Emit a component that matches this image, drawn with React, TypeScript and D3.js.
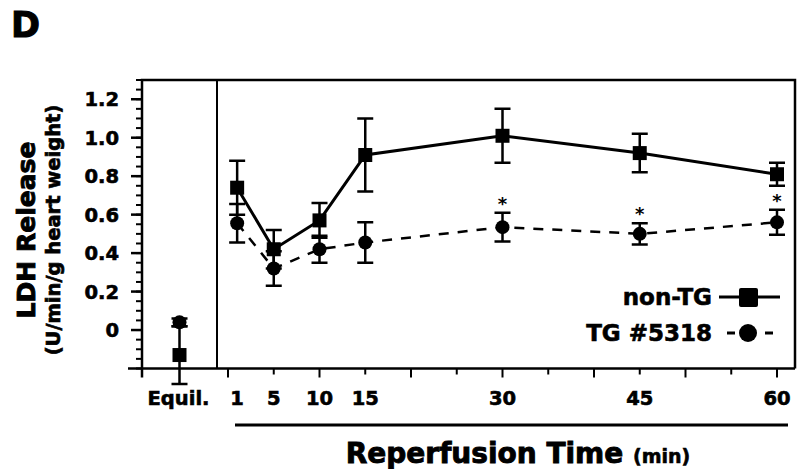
import React, { useEffect, useRef } from 'react';
import * as d3 from 'd3';

// reperfusion minutes
const times = [1, 5, 10, 15, 30, 45, 60];
const tickLabels = [1, 5, 10, 15, 30, 45, 60];

// LDH release, U/min/g heart weight
const nonTG = [0.74, 0.42, 0.57, 0.91, 1.01, 0.92, 0.81];
const nonTGErr = [0.14, 0.1, 0.09, 0.19, 0.14, 0.1, 0.06];
const tg = [0.555, 0.32, 0.42, 0.455, 0.535, 0.5, 0.56];
const tgErr = [0.1, 0.09, 0.07, 0.105, 0.075, 0.055, 0.065];

// equilibration values
const equilNonTG = [-0.13];
const equilNonTGErr = [0.15];
const equilTG = [0.04];
const equilTGErr = [0.02];

const significant = [30, 45, 60];
const yTicks = [0, 0.2, 0.4, 0.6, 0.8, 1.0, 1.2];

const W = 798;
const H = 469;
const FONT = '"DejaVu Sans", sans-serif';

const App: React.FC = () => {
    const svgRef = useRef<SVGSVGElement>(null);

    useEffect(() => {
        if (!svgRef.current) return;
        const svg = d3.select(svgRef.current);
        svg.selectAll('*').remove();

        const left = 142, right = 795, top = 80, bottom = 368.5;
        const x = d3.scaleLinear().domain([0, 60]).range([228, 777]);
        const y = d3.scaleLinear().domain([-0.2, 1.3]).range([bottom, top]);
        const xPre = d3.scalePoint<string>().domain(['Equil.']).range([left, 217]).padding(0.5);
        const ex = xPre('Equil.') as number;

        // heavier text like the scanned original
        const heavy = (sel: any, w = 0.6) => sel.attr('stroke', '#000').attr('stroke-width', w);

        // panel letter
        heavy(svg.append('text').attr('x', 11).attr('y', 37)
            .attr('font-family', FONT).attr('font-weight', 'bold').attr('font-size', 35)
            .text('D'), 1);

        // frame
        svg.append('path')
            .attr('d', `M${left},${bottom + 9}V${top}H${right}V${bottom}`)
            .attr('fill', 'none').attr('stroke', '#000').attr('stroke-width', 2.5);
        svg.append('line').attr('x1', 128).attr('x2', right).attr('y1', bottom).attr('y2', bottom)
            .attr('stroke', '#000').attr('stroke-width', 2.5);
        svg.append('line').attr('x1', 217).attr('x2', 217).attr('y1', top).attr('y2', bottom)
            .attr('stroke', '#000').attr('stroke-width', 2);

        // y ticks
        const minor = d3.range(-0.2, 1.3001, 0.05);
        svg.append('g').selectAll('line').data(minor).join('line')
            .attr('x1', left - 6).attr('x2', left + 1)
            .attr('y1', d => y(d)).attr('y2', d => y(d))
            .attr('stroke', '#000').attr('stroke-width', 2);
        svg.append('g').selectAll('line').data(yTicks).join('line')
            .attr('x1', left - 11).attr('x2', left + 1)
            .attr('y1', d => y(d)).attr('y2', d => y(d))
            .attr('stroke', '#000').attr('stroke-width', 2.5);
        heavy(svg.append('g').selectAll('text').data(yTicks).join('text')
            .attr('x', 119).attr('y', d => y(d)).attr('dy', '0.36em')
            .attr('text-anchor', 'end')
            .attr('font-family', FONT).attr('font-weight', 'bold').attr('font-size', 19.5)
            .text(d => (d === 0 ? '0' : d.toFixed(1))));

        // x ticks
        const xt = d3.range(0, 61, 5);
        svg.append('g').selectAll('line').data(xt).join('line')
            .attr('x1', d => x(d)).attr('x2', d => x(d))
            .attr('y1', bottom).attr('y2', (d, i) => bottom + (i % 2 === 0 ? 9 : 6))
            .attr('stroke', '#000').attr('stroke-width', 2);
        heavy(svg.append('g').selectAll('text').data(tickLabels).join('text')
            .attr('x', d => x(d)).attr('y', 405)
            .attr('text-anchor', 'middle')
            .attr('font-family', FONT).attr('font-weight', 'bold').attr('font-size', 19.5)
            .text(d => String(d)));
        heavy(svg.append('text').attr('x', ex - 1).attr('y', 405)
            .attr('text-anchor', 'middle')
            .attr('font-family', FONT).attr('font-weight', 'bold').attr('font-size', 19.5)
            .text('Equil.'));

        // underline + axis title
        svg.append('line').attr('x1', 235).attr('x2', 788).attr('y1', 425).attr('y2', 425)
            .attr('stroke', '#000').attr('stroke-width', 3);
        const xt2 = heavy(svg.append('text').attr('x', 518).attr('y', 463)
            .attr('text-anchor', 'middle')
            .attr('font-family', FONT).attr('font-weight', 'bold').attr('font-size', 28), 0.9);
        xt2.append('tspan').text('Reperfusion Time ');
        xt2.append('tspan').attr('font-size', 19).attr('stroke-width', 0.6).text('(min)');

        // y title
        heavy(svg.append('text')
            .attr('transform', `translate(35,230) rotate(-90)`)
            .attr('text-anchor', 'middle')
            .attr('font-family', FONT).attr('font-weight', 'bold').attr('font-size', 25)
            .text('LDH Release'), 0.9);
        heavy(svg.append('text')
            .attr('transform', `translate(60,230) rotate(-90)`)
            .attr('text-anchor', 'middle')
            .attr('font-family', FONT).attr('font-weight', 'bold').attr('font-size', 19.5)
            .text('(U/min/g heart weight)'), 0.7);

        const cap = 8;
        const errBars = (g: any, xs: number[], vals: number[], errs: number[]) => {
            vals.forEach((v, i) => {
                const cx = xs[i];
                const y0 = y(v - errs[i]);
                const y1 = y(v + errs[i]);
                g.append('path')
                    .attr('d', `M${cx},${y0}V${y1}M${cx - cap},${y0}H${cx + cap}M${cx - cap},${y1}H${cx + cap}`)
                    .attr('fill', 'none').attr('stroke', '#000').attr('stroke-width', 2.5);
            });
        };

        const tx = times.map(t => x(t));
        const line = d3.line<number>().x((d, i) => tx[i]).y(d => y(d));

        // TG dashed
        const gT = svg.append('g');
        gT.append('path').datum(tg).attr('d', line)
            .attr('fill', 'none').attr('stroke', '#000').attr('stroke-width', 2.5)
            .attr('stroke-dasharray', '10,9');
        errBars(gT, tx, tg, tgErr);
        errBars(gT, [ex], equilTG, equilTGErr);
        gT.selectAll('circle.pt').data(tg).join('circle')
            .attr('cx', (d, i) => tx[i]).attr('cy', d => y(d)).attr('r', 7);
        gT.append('circle').attr('cx', ex).attr('cy', y(equilTG[0])).attr('r', 7);

        // non-TG solid
        const gN = svg.append('g');
        gN.append('path').datum(nonTG).attr('d', line)
            .attr('fill', 'none').attr('stroke', '#000').attr('stroke-width', 3);
        errBars(gN, tx, nonTG, nonTGErr);
        errBars(gN, [ex], equilNonTG, equilNonTGErr);
        gN.selectAll('rect.pt').data(nonTG).join('rect')
            .attr('x', (d, i) => tx[i] - 7).attr('y', d => y(d) - 7)
            .attr('width', 14).attr('height', 14);
        gN.append('rect').attr('x', ex - 7).attr('y', y(equilNonTG[0]) - 7)
            .attr('width', 14).attr('height', 14);

        // significance marks
        svg.append('g').selectAll('text').data(significant).join('text')
            .attr('x', d => x(d))
            .attr('y', d => {
                const i = times.indexOf(d);
                return y(tg[i] + tgErr[i]) - 3;
            })
            .attr('text-anchor', 'middle')
            .attr('font-family', FONT).attr('font-weight', 'bold').attr('font-size', 18)
            .text('*');

        // legend
        const lg = svg.append('g').attr('font-family', FONT).attr('font-weight', 'bold').attr('font-size', 23);
        heavy(lg.append('text').attr('x', 712).attr('y', 297).attr('dy', '0.36em').attr('text-anchor', 'end').text('non-TG'));
        lg.append('line').attr('x1', 719).attr('x2', 780).attr('y1', 297).attr('y2', 297)
            .attr('stroke', '#000').attr('stroke-width', 3);
        lg.append('rect').attr('x', 739).attr('y', 288).attr('width', 19).attr('height', 19).attr('rx', 2);
        heavy(lg.append('text').attr('x', 712).attr('y', 333).attr('dy', '0.36em').attr('text-anchor', 'end').text('TG #5318'));
        lg.append('line').attr('x1', 727).attr('x2', 735).attr('y1', 333).attr('y2', 333)
            .attr('stroke', '#000').attr('stroke-width', 3);
        lg.append('line').attr('x1', 765).attr('x2', 773).attr('y1', 333).attr('y2', 333)
            .attr('stroke', '#000').attr('stroke-width', 3);
        lg.append('circle').attr('cx', 748).attr('cy', 333).attr('r', 9);
    }, []);

    return (
        <svg ref={svgRef} width={W} height={H}
             style={{ position: 'absolute', left: 0, top: 0, background: '#fff' }}></svg>
    );
};

export default App;
